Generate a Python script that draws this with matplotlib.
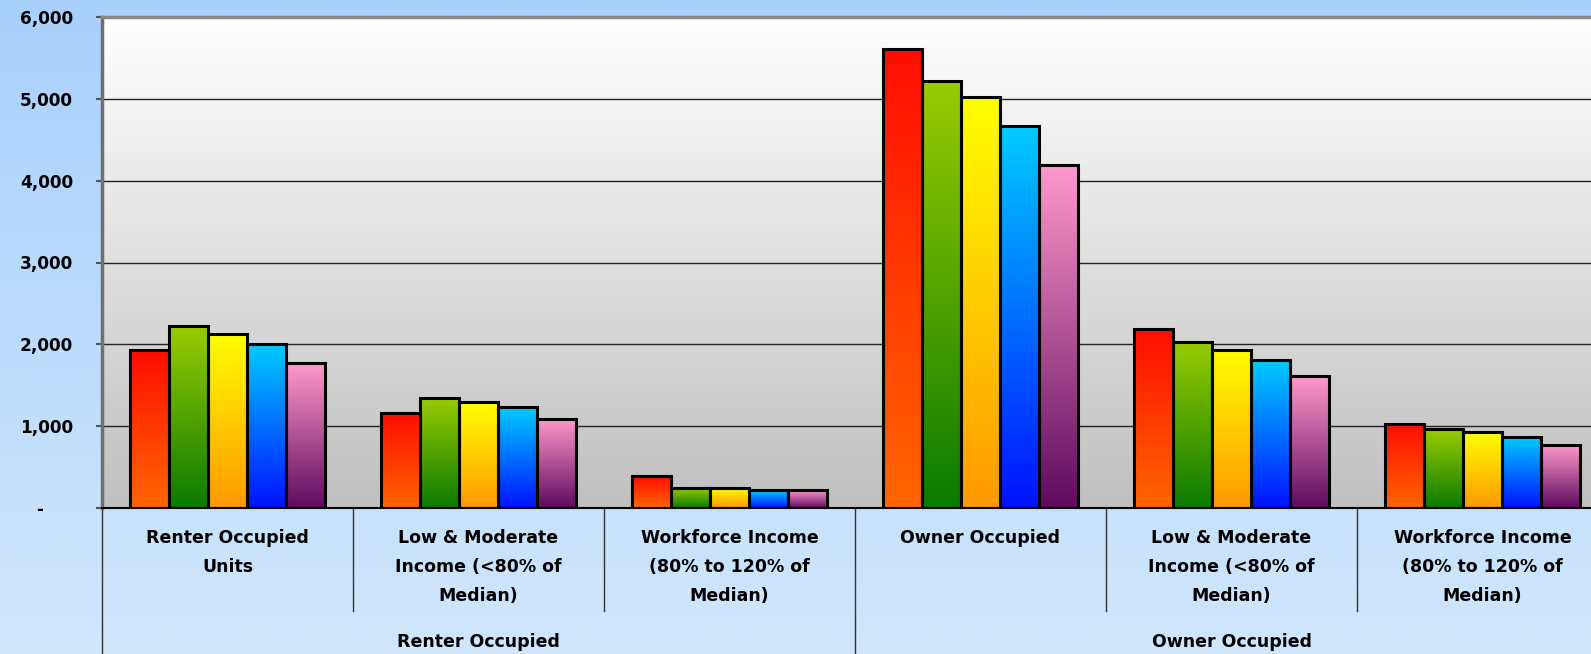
import numpy as np
import matplotlib
matplotlib.use("Agg")
import matplotlib.pyplot as plt
from matplotlib.colors import LinearSegmentedColormap

# data ---------------------------------------------------------------------------
sub_labels = ["Renter Occupied\nUnits",
              "Low & Moderate\nIncome (<80% of\nMedian)",
              "Workforce Income\n(80% to 120% of\nMedian)",
              "Owner Occupied",
              "Low & Moderate\nIncome (<80% of\nMedian)",
              "Workforce Income\n(80% to 120% of\nMedian)"]
group_labels = ["Renter Occupied", "Owner Occupied"]
s1 = [1935, 1160, 385, 5610, 2190, 1030]
s2 = [2230, 1350, 250, 5220, 2030, 965]
s3 = [2130, 1290, 250, 5025, 1935, 930]
s4 = [2010, 1230, 218, 4672, 1805, 868]
s5 = [1770, 1090, 218, 4190, 1610, 775]
y_ticks = [0, 1000, 2000, 3000, 4000, 5000, 6000]
y_tick_labels = ["-     ", "1,000", "2,000", "3,000", "4,000", "5,000", "6,000"]

series = [s1, s2, s3, s4, s5]
# (bottom colour, top colour) of each bar gradient
bar_grad = [("#ff6600", "#ff0d00"),
            ("#0a7a00", "#99cc00"),
            ("#ff9900", "#ffff00"),
            ("#0011ff", "#00ccff"),
            ("#5e0a5e", "#ff99cc")]

FW, FH = 1591, 654
fig = plt.figure(figsize=(FW / 100, FH / 100), dpi=100)

# figure background gradient
bg = fig.add_axes([0, 0, 1, 1], zorder=-10)
bg_cmap = LinearSegmentedColormap.from_list("bg", ["#d0e7fc", "#a9d0fc"])
bg.imshow(np.linspace(0, 1, 256).reshape(-1, 1), cmap=bg_cmap, aspect="auto",
          extent=[0, 1, 0, 1], origin="lower")
bg.axis("off")

# plot area in pixels
left_px, right_px, top_px, bot_px = 102, 1608, 17, 508
ax = fig.add_axes([left_px / FW, (FH - bot_px) / FH,
                   (right_px - left_px) / FW, (bot_px - top_px) / FH])
ax_h = bot_px - top_px
ax.patch.set_visible(False)

pa_cmap = LinearSegmentedColormap.from_list("pa", ["#c0c0c0", "#ffffff"])
ax.imshow(np.linspace(0, 1, 256).reshape(-1, 1), cmap=pa_cmap, aspect="auto",
          extent=[0, 1, 0, 1], origin="lower", transform=ax.transAxes, zorder=-1)

# bars ---------------------------------------------------------------------------
n = len(sub_labels)
x = np.arange(n)
w = 0.156
grad = np.linspace(0, 1, 256).reshape(-1, 1)
for j, vals in enumerate(series):
    bars = ax.bar(x + (j - 2) * w, vals, w, facecolor="none", edgecolor="black",
                  linewidth=2.2, zorder=3)
    cm = LinearSegmentedColormap.from_list(f"b{j}", list(bar_grad[j]))
    for r in bars:
        x0 = r.get_x()
        ax.imshow(grad, cmap=cm, aspect="auto", origin="lower", zorder=2,
                  extent=[x0, x0 + r.get_width(), 0, r.get_height()])

ax.set_xlim(-0.5, n - 0.5)
ax.set_ylim(0, 6000)

# axes styling
ax.set_yticks(y_ticks)
ax.set_yticklabels(y_tick_labels, fontsize=12.2, fontweight="bold", family="DejaVu Sans")
ax.tick_params(axis="y", length=4, width=1.5, color="#555555", pad=17)
ax.set_xticks([])
ax.yaxis.grid(True, color="#222222", linewidth=1)
ax.set_axisbelow(True)
for g in ax.yaxis.get_gridlines():
    g.set_zorder(0.5)
ax.spines["left"].set_color("#707070")
ax.spines["left"].set_linewidth(2.5)
ax.spines["top"].set_color("#888888")
ax.spines["top"].set_linewidth(2.5)
ax.spines["bottom"].set_color("black")
ax.spines["bottom"].set_linewidth(1.5)
ax.spines["right"].set_visible(False)

# two-level category axis ----------------------------------------------------------
tr = ax.get_xaxis_transform()
def px(p):
    # pixels below the x axis -> axes fraction
    return -p / ax_h

for xb in [0.5, 1.5, 3.5, 4.5]:
    ax.plot([xb, xb], [0, px(103)], transform=tr, color="#333333", lw=1, clip_on=False)
for xb in [-0.5, 2.5, 5.5]:
    ax.plot([xb, xb], [0, px(150)], transform=tr, color="#333333", lw=1, clip_on=False)

line_y = [30, 59, 88]
for i, lab in enumerate(sub_labels):
    for k, line in enumerate(lab.split("\n")):
        ax.text(i, px(line_y[k]), line, transform=tr, ha="center", va="center",
                fontsize=12.5, fontweight="bold", family="DejaVu Sans")
for g, lab in enumerate(group_labels):
    ax.text(3 * g + 1, px(134), lab, transform=tr, ha="center", va="center",
            fontsize=12.5, fontweight="bold", family="DejaVu Sans")

fig.savefig("out.png", dpi=100)
